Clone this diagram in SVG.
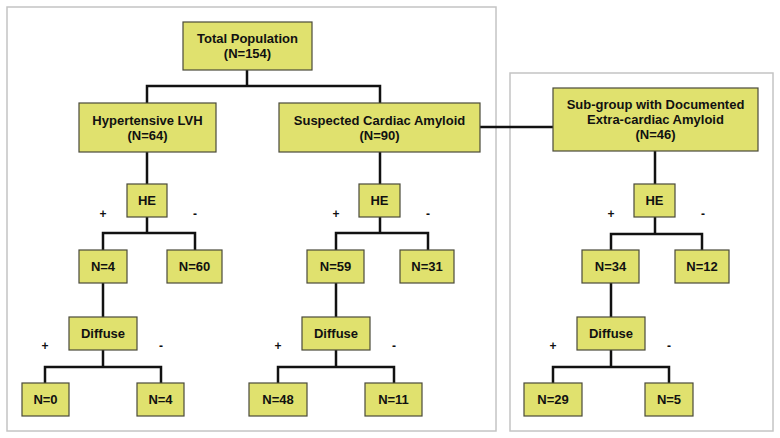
<svg xmlns="http://www.w3.org/2000/svg" width="780" height="438" viewBox="0 0 780 438">
<style>
.panel{fill:#fff;stroke:#c4c4c4;stroke-width:1.5}
.box{fill:#e0e16e;stroke:#4a4a3a;stroke-width:1.2}
.t{font-family:"Liberation Sans",Arial,sans-serif;font-weight:bold;font-size:13px;fill:#111;text-anchor:middle}
.s{font-family:"Liberation Sans",Arial,sans-serif;font-weight:bold;font-size:12px;fill:#111;text-anchor:middle}
.c{fill:none;stroke:#111;stroke-width:2.5}
</style>
<rect width="780" height="438" fill="#fff"/>
<rect class="panel" x="7" y="7" width="489" height="424"/>
<rect class="panel" x="510" y="73" width="263" height="358"/>
<g id="connectors">
<path class="c" d="M247,70 V86 M147,103 V86 H380 V103"/>
<path class="c" d="M480,127 H553"/>
<path class="c" d="M147,152 V184 M147,217 V233 M103,250 V233 H195 V250"/>
<path class="c" d="M103,283 V317 M103,350 V367 M45,383 V367 H161 V383"/>
<path class="c" d="M380,152 V184 M380,217 V233 M336,250 V233 H428 V250"/>
<path class="c" d="M336,283 V317 M336,350 V367 M278,383 V367 H394 V383"/>
<path class="c" d="M655,151 V184 M655,217 V234 M611,251 V234 H702 V251"/>
<path class="c" d="M611,283 V317 M611,350 V367 M553,383 V367 H669 V383"/>
</g>
<g id="total"><rect class="box" x="183" y="22" width="129" height="48"/><text class="t" x="247.5" y="43">Total Population</text><text class="t" x="247.5" y="58">(N=154)</text></g>
<g id="lvh"><rect class="box" x="79" y="103" width="137" height="49"/><text class="t" x="147.5" y="125">Hypertensive LVH</text><text class="t" x="147.5" y="140">(N=64)</text></g>
<g id="sca"><rect class="box" x="279" y="103" width="201" height="49"/><text class="t" x="379.5" y="125">Suspected Cardiac Amyloid</text><text class="t" x="379.5" y="140">(N=90)</text></g>
<g id="sub"><rect class="box" x="553" y="88" width="205" height="63"/><text class="t" x="655.5" y="109">Sub-group with Documented</text><text class="t" x="655.5" y="124">Extra-cardiac Amyloid</text><text class="t" x="655.5" y="139">(N=46)</text></g>
<g id="he1"><rect class="box" x="127" y="184" width="40" height="33"/><text class="t" x="147" y="205">HE</text></g>
<g id="he2"><rect class="box" x="359" y="184" width="41" height="33"/><text class="t" x="379.5" y="205">HE</text></g>
<g id="he3"><rect class="box" x="634" y="184" width="41" height="33"/><text class="t" x="654.5" y="205">HE</text></g>
<g id="signs">
<text class="s" x="103" y="218">+</text><text class="s" x="195" y="218">-</text>
<text class="s" x="336" y="218">+</text><text class="s" x="428" y="218">-</text>
<text class="s" x="611" y="218">+</text><text class="s" x="703" y="218">-</text>
<text class="s" x="45" y="350">+</text><text class="s" x="161" y="350">-</text>
<text class="s" x="278" y="350">+</text><text class="s" x="394" y="350">-</text>
<text class="s" x="553" y="350">+</text><text class="s" x="669" y="350">-</text>
</g>
<g id="n4a"><rect class="box" x="79" y="250" width="48" height="33"/><text class="t" x="103" y="271">N=4</text></g>
<g id="n60"><rect class="box" x="167" y="250" width="55" height="33"/><text class="t" x="194.5" y="271">N=60</text></g>
<g id="n59"><rect class="box" x="307" y="250" width="57" height="33"/><text class="t" x="335.5" y="271">N=59</text></g>
<g id="n31"><rect class="box" x="400" y="250" width="54" height="33"/><text class="t" x="427" y="271">N=31</text></g>
<g id="n34"><rect class="box" x="582" y="250" width="57" height="33"/><text class="t" x="610.5" y="271">N=34</text></g>
<g id="n12"><rect class="box" x="675" y="250" width="54" height="33"/><text class="t" x="702" y="271">N=12</text></g>
<g id="d1"><rect class="box" x="69" y="317" width="68" height="33"/><text class="t" x="103" y="338">Diffuse</text></g>
<g id="d2"><rect class="box" x="302" y="317" width="68" height="33"/><text class="t" x="336" y="338">Diffuse</text></g>
<g id="d3"><rect class="box" x="577" y="317" width="68" height="33"/><text class="t" x="611" y="338">Diffuse</text></g>
<g id="n0"><rect class="box" x="22" y="383" width="47" height="33"/><text class="t" x="45.5" y="404">N=0</text></g>
<g id="n4b"><rect class="box" x="137" y="383" width="47" height="33"/><text class="t" x="160.5" y="404">N=4</text></g>
<g id="n48"><rect class="box" x="249" y="383" width="58" height="33"/><text class="t" x="278" y="404">N=48</text></g>
<g id="n11"><rect class="box" x="365" y="383" width="57" height="33"/><text class="t" x="393.5" y="404">N=11</text></g>
<g id="n29"><rect class="box" x="524" y="383" width="58" height="33"/><text class="t" x="553" y="404">N=29</text></g>
<g id="n5"><rect class="box" x="645" y="383" width="48" height="33"/><text class="t" x="669" y="404">N=5</text></g>
</svg>
